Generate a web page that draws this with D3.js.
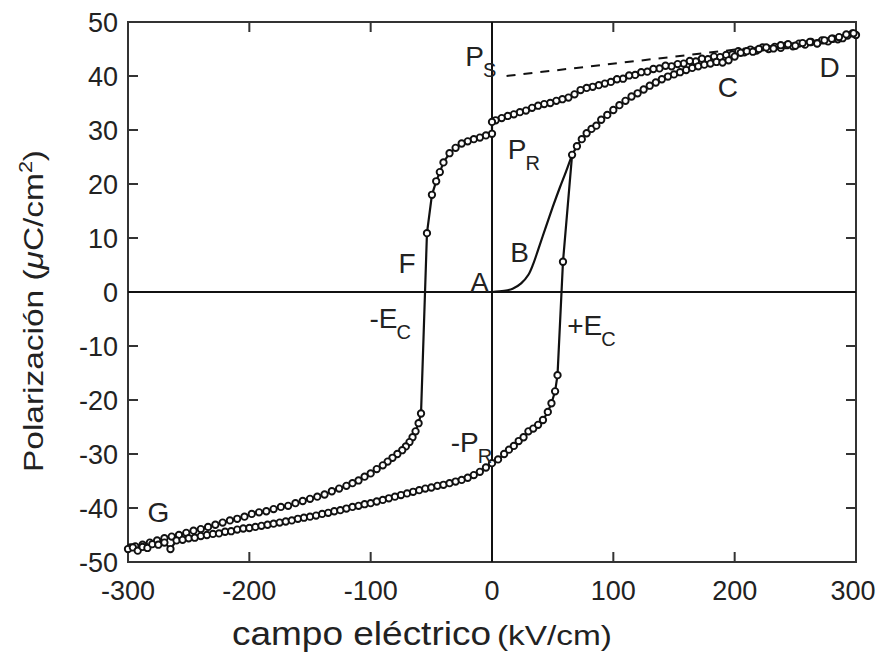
<!DOCTYPE html>
<html>
<head>
<meta charset="utf-8">
<script src="https://cdn.jsdelivr.net/npm/d3@7/dist/d3.min.js"></script>
<style>
  html, body { margin: 0; padding: 0; background: #fff; }
  svg { display: block; }
  text { font-family: "Liberation Sans", Arial, Helvetica, sans-serif; fill: #222; }
</style>
</head>
<body>
<svg id="chart" width="884" height="654"></svg>
<script>
// Hysteresis loop of a ferroelectric: polarization vs. applied electric field

// Descending branch (from +E_max down to -E_max), kV/cm and uC/cm2
const descField = [300, 297, 293, 289, 285, 281, 277, 272, 268, 263, 258, 253, 248, 243, 238, 233, 228, 223, 218, 213, 208,
  203, 198, 193, 188, 183, 178, 173, 168, 163, 158, 153, 148, 143, 138, 133, 128, 123, 118, 113, 108, 103, 98, 93, 88, 83,
  78, 73, 68, 63, 58, 53, 48, 43, 38, 33, 28, 23, 18, 13, 8, 3, 0, 0, -5, -10, -15, -20, -25, -30, -35, -40, -43, -46,
  -49.5, -53.6, -58.5, -60.5, -63, -65.5, -68, -71, -74, -78, -82, -86, -90, -95, -100, -105, -110, -115, -120, -126,
  -132, -138, -144, -150, -156, -162, -168, -174, -180, -186, -192, -198, -204, -210, -216, -222, -228, -234, -240, -246,
  -252, -258, -264, -270, -276, -282, -288, -294, -298];
const descPol = [47.6, 47.9, 47.5, 47.0, 46.8, 46.9, 46.4, 46.6, 46.1, 46.3, 45.8, 46.0, 45.5, 45.7, 45.2, 45.4, 45.0, 45.3, 44.7, 44.9, 44.4,
  44.6, 44.0, 43.9, 43.5, 43.6, 43.1, 43.2, 42.7, 42.8, 42.3, 42.2, 41.8, 41.9, 41.4, 41.3, 40.8, 40.7, 40.2, 40.1, 39.5, 39.4, 38.9, 38.6, 38.3, 38.0,
  37.8, 37.4, 36.6, 36.0, 35.7, 35.4, 35.0, 34.8, 34.5, 34.1, 33.6, 33.3, 32.9, 32.6, 32.2, 31.8, 31.5, 29.3, 29.0, 28.6, 28.3, 27.9, 27.5, 26.7, 25.7, 24.0, 22.2, 20.5,
  18.0, 10.9, -22.5, -24.3, -25.8, -26.9, -27.8, -28.6, -29.3, -30.0, -30.7, -31.4, -32.1, -32.8, -33.6, -34.2, -34.9, -35.4, -35.9, -36.4,
  -36.9, -37.5, -37.9, -38.3, -38.7, -39.1, -39.6, -39.8, -40.2, -40.6, -40.8, -41.1, -41.6, -42.0, -42.3, -42.7, -43.1, -43.5, -43.9, -44.2,
  -44.6, -45.0, -45.3, -45.6, -46.0, -46.4, -46.8, -47.1, -47.3];

// Ascending branch (from -E_max back up to +E_max)
const ascField = [-300, -296, -292, -288, -284, -280, -275, -270, -265, -260, -255, -250, -245, -240, -235, -230, -225, -220, -215, -210,
  -205, -200, -195, -190, -185, -180, -175, -170, -165, -160, -155, -150, -145, -140, -135, -130, -125, -120, -115, -110, -105, -100,
  -95, -90, -85, -80, -75, -70, -65, -60, -55, -50, -45, -40, -35, -30, -25, -20, -15, -10, -5, 0, 5, 10, 14, 18, 22, 26, 30, 34, 38,
  42, 46, 49, 52, 54, 58.5, 66, 70, 74, 78, 82, 86, 90, 95, 100, 105, 110, 115, 120, 125, 130, 135, 140, 145, 150, 155, 160, 165, 170,
  175, 180, 185, 190, 195, 200, 205, 210, 215, 220, 226, 232, 238, 244, 250, 256, 262, 268, 274, 280, 286, 292, 298];
const ascPol = [-47.6, -47.3, -47.9, -47.2, -47.4, -46.7, -46.8, -46.4, -47.6, -46.0, -45.9, -45.6, -45.5, -45.2, -45.0, -44.8, -44.7, -44.4, -44.3, -44.0,
  -43.8, -43.7, -43.5, -43.3, -43.1, -42.9, -42.7, -42.5, -42.3, -42.0, -41.8, -41.6, -41.4, -41.1, -40.9, -40.6, -40.4, -40.1, -39.8, -39.6, -39.3, -39.1,
  -38.8, -38.5, -38.2, -37.9, -37.6, -37.3, -37.0, -36.7, -36.4, -36.2, -35.9, -35.7, -35.4, -35.1, -34.8, -34.4, -33.9, -33.3, -32.5, -31.7, -31.0, -30.0, -29.2, -28.5, -27.6, -26.9, -25.8, -25.3, -24.6,
  -23.7, -22.2, -20.6, -18.4, -15.4, 5.6, 25.4, 27.0, 28.3, 29.4, 30.2, 30.8, 31.9, 32.8, 33.7, 34.6, 35.4, 36.2, 36.8, 37.5, 38.2, 38.8, 39.4, 39.9, 40.3, 40.7, 41.1, 41.5, 41.8,
  42.1, 42.3, 42.6, 42.5, 42.9, 43.6, 44.3, 44.6, 44.5, 45.0, 45.3, 45.1, 45.7, 45.9, 45.6, 46.1, 46.3, 46.0, 46.6, 46.9, 47.2, 47.7, 47.9];

// First polarization of the virgin sample (A -> B), no markers
const initField = [0, 10, 17, 24, 30, 34, 38, 44, 50, 56, 61, 66];
const initPol = [0, 0.2, 0.6, 1.6, 3.2, 5.2, 7.8, 11.8, 15.7, 19.4, 22.3, 25.4];

// Saturation extrapolation back to the polarization axis (P_S)
const satField = [12, 220];
const satPol = [40, 45.4];

const xTicks = [-300, -200, -100, 0, 100, 200, 300];
const yTicks = [-50, -40, -30, -20, -10, 0, 10, 20, 30, 40, 50];

// Point labels: [main text, subscript, field, polarization]
const pointLabels = [
  ["P", "S", -22, 41.9],
  ["P", "R", 13, 24.6],
  ["D", "", 270, 39.8],
  ["C", "", 186, 36.1],
  ["B", "", 15, 5.6],
  ["A", "", -18, 0],
  ["F", "", -77, 3.5],
  ["-E", "C", -101, -6.7],
  ["+E", "C", 62, -8.0],
  ["-P", "R", -34, -29.6],
  ["G", "", -284, -42.6]
];

const svg = d3.select("#chart");
const L = 128, R = 856, T = 22, B = 562;

const x = d3.scaleLinear().domain([-300, 300]).range([L, R]);
const y = d3.scaleLinear().domain([-50, 50]).range([B, T]);

// Frame
svg.append("rect")
  .attr("x", L).attr("y", T).attr("width", R - L).attr("height", B - T)
  .attr("fill", "none").attr("stroke", "#333").attr("stroke-width", 2);

// Inward ticks on all four sides
const tickLen = 10;
const tickG = svg.append("g").attr("stroke", "#333").attr("stroke-width", 2);
xTicks.filter(v => v > -300 && v < 300 && v !== 0).forEach(v => {
  tickG.append("line").attr("x1", x(v)).attr("x2", x(v)).attr("y1", B).attr("y2", B - tickLen);
  tickG.append("line").attr("x1", x(v)).attr("x2", x(v)).attr("y1", T).attr("y2", T + tickLen);
});
yTicks.filter(v => v > -50 && v < 50 && v !== 0).forEach(v => {
  tickG.append("line").attr("x1", L).attr("x2", L + tickLen).attr("y1", y(v)).attr("y2", y(v));
  tickG.append("line").attr("x1", R).attr("x2", R - tickLen).attr("y1", y(v)).attr("y2", y(v));
});

// Tick labels
svg.append("g").selectAll("text").data(yTicks).join("text")
  .attr("x", 118).attr("y", d => y(d) + 10)
  .attr("text-anchor", "end").attr("font-size", 27).text(d => d);
svg.append("g").selectAll("text").data(xTicks).join("text")
  .attr("x", d => x(d) + (d === 300 ? -3 : 0)).attr("y", 600)
  .attr("text-anchor", "middle").attr("font-size", 27).text(d => d);

// Zero axes through the origin
svg.append("line").attr("x1", L).attr("x2", R).attr("y1", y(0)).attr("y2", y(0))
  .attr("stroke", "#111").attr("stroke-width", 2);
svg.append("line").attr("x1", x(0)).attr("x2", x(0)).attr("y1", T).attr("y2", B)
  .attr("stroke", "#111").attr("stroke-width", 2);

// Dashed saturation line
svg.append("line")
  .attr("x1", x(satField[0])).attr("y1", y(satPol[0]))
  .attr("x2", x(satField[1])).attr("y2", y(satPol[1]))
  .attr("stroke", "#111").attr("stroke-width", 2).attr("stroke-dasharray", "9,8");

const line = d3.line().x(d => x(d[0])).y(d => y(d[1]));
const desc = descField.map((v, i) => [v, descPol[i]]);
const asc = ascField.map((v, i) => [v, ascPol[i]]);
const init = initField.map((v, i) => [v, initPol[i]]);

svg.append("path").datum(init)
  .attr("d", line.curve(d3.curveCatmullRom)).attr("fill", "none")
  .attr("stroke", "#111").attr("stroke-width", 2.2);
line.curve(d3.curveLinear);

[desc, asc].forEach(branch => {
  svg.append("path").datum(branch).attr("d", line)
    .attr("fill", "none").attr("stroke", "#111").attr("stroke-width", 2.2);
});
[desc, asc].forEach(branch => {
  svg.append("g").selectAll("circle").data(branch).join("circle")
    .attr("cx", d => x(d[0])).attr("cy", d => y(d[1])).attr("r", 3.2)
    .attr("fill", "#fff").attr("stroke", "#111").attr("stroke-width", 1.9);
});

// Point labels (subscript sits below the letter's right side)
pointLabels.forEach(([main, sub, fx, py]) => {
  const t = svg.append("text").attr("x", x(fx)).attr("y", y(py)).attr("font-size", 28);
  t.append("tspan").text(main);
  if (sub) t.append("tspan").attr("font-size", 20).attr("dy", 11).attr("dx", -1).text(sub);
});

// Axis titles
const yTitle = svg.append("text")
  .attr("transform", "translate(43," + 311 + ") rotate(-90)")
  .attr("text-anchor", "middle").attr("font-size", 28)
  .attr("textLength", 322).attr("lengthAdjust", "spacingAndGlyphs");
yTitle.append("tspan").text("Polarización (");
yTitle.append("tspan").attr("font-style", "italic").text("μ");
yTitle.append("tspan").text("C/cm");
yTitle.append("tspan").attr("font-size", 18).attr("dy", -11).text("2");
yTitle.append("tspan").attr("dy", 11).text(")");

svg.append("text").attr("x", 232).attr("y", 645)
  .attr("font-family", "'Open Sans', 'Noto Sans', sans-serif").attr("font-size", 33)
  .attr("textLength", 259).attr("lengthAdjust", "spacingAndGlyphs")
  .text("campo eléctrico");
svg.append("text").attr("x", 497).attr("y", 645)
  .attr("font-size", 28).attr("fill", "#333")
  .attr("textLength", 115).attr("lengthAdjust", "spacingAndGlyphs")
  .text("(kV/cm)");
</script>
</body>
</html>
